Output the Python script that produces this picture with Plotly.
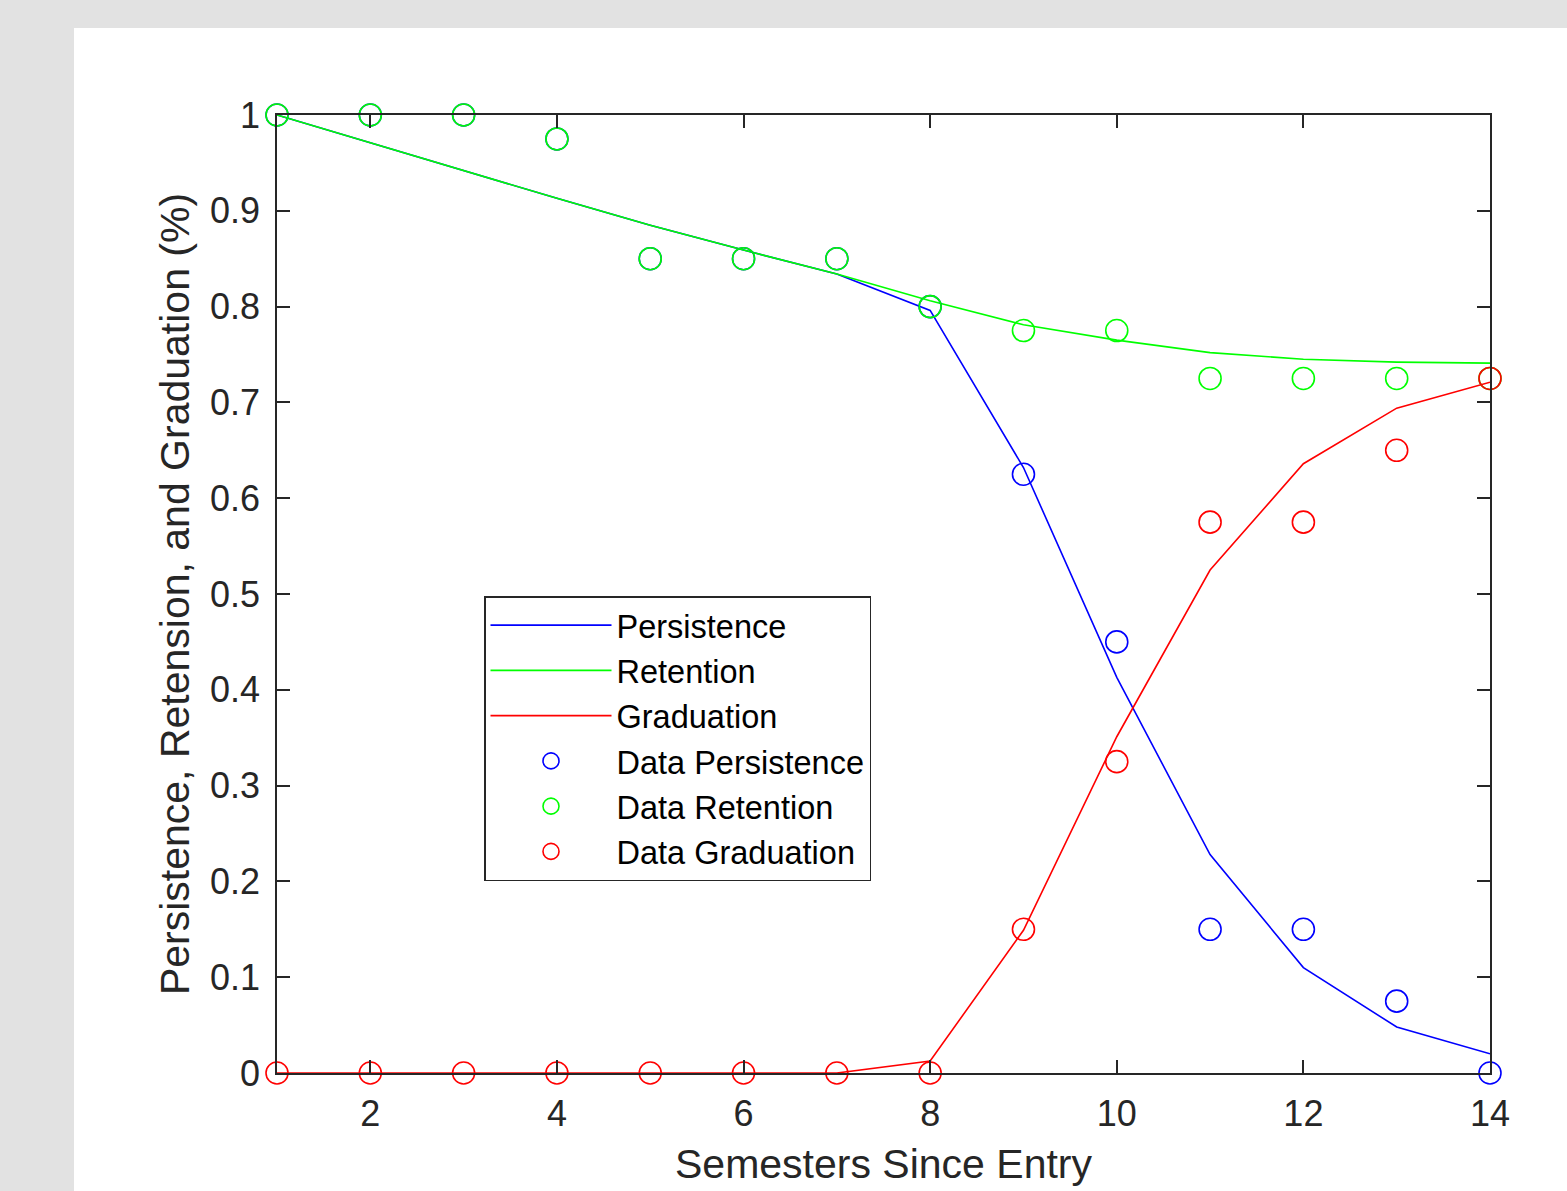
import plotly.graph_objects as go

semesters = list(range(1, 15))

# model curves
persistence_model = [1.0, 0.971, 0.942, 0.913, 0.885, 0.859, 0.834, 0.796, 0.632, 0.413, 0.228, 0.110, 0.048, 0.020]
retention_model = [1.0, 0.971, 0.942, 0.913, 0.885, 0.859, 0.834, 0.806, 0.781, 0.765, 0.752, 0.745, 0.742, 0.741]
graduation_model = [0.0, 0.0, 0.0, 0.0, 0.0, 0.0, 0.0, 0.0125, 0.149, 0.351, 0.525, 0.636, 0.694, 0.721]

# observed data
persistence_data = [1.0, 1.0, 1.0, 0.975, 0.85, 0.85, 0.85, 0.8, 0.625, 0.45, 0.15, 0.15, 0.075, 0.0]
retention_data = [1.0, 1.0, 1.0, 0.975, 0.85, 0.85, 0.85, 0.8, 0.775, 0.775, 0.725, 0.725, 0.725, 0.725]
graduation_data = [0.0, 0.0, 0.0, 0.0, 0.0, 0.0, 0.0, 0.0, 0.15, 0.325, 0.575, 0.575, 0.65, 0.725]

x_ticks = [2, 4, 6, 8, 10, 12, 14]
y_ticks = [0, 0.1, 0.2, 0.3, 0.4, 0.5, 0.6, 0.7, 0.8, 0.9, 1.0]

BLUE, GREEN, RED = "rgb(0,0,255)", "rgb(0,255,0)", "rgb(255,0,0)"
AX = "#262626"
FONT = "Arial, 'Liberation Sans', sans-serif"

fig = go.Figure()
for name, y, c in [("Persistence", persistence_model, BLUE),
                   ("Retention", retention_model, GREEN),
                   ("Graduation", graduation_model, RED)]:
    fig.add_trace(go.Scatter(x=semesters, y=y, mode="lines", name=name,
                             line=dict(color=c, width=1.6), cliponaxis=False))
for name, y, c in [("Data Persistence", persistence_data, BLUE),
                   ("Data Retention", retention_data, GREEN),
                   ("Data Graduation", graduation_data, RED)]:
    fig.add_trace(go.Scatter(x=semesters, y=y, mode="markers", name=name,
                             marker=dict(symbol="circle-open", size=22, color=c,
                                         line=dict(color=c, width=1.6)),
                             cliponaxis=False))

L, R, T, B = 277, 77, 115, 118
W, H = 1567, 1191
pw, ph = W - L - R, H - T - B

fig.add_shape(type="rect", xref="paper", yref="paper", layer="below",
              x0=(74 - L) / pw, x1=(W - L) / pw + 0.01,
              y0=-(B + 5) / ph, y1=(H - B - 28) / ph,
              fillcolor="white", line=dict(width=0))

axis_common = dict(showgrid=False, zeroline=False, showline=True, linecolor=AX,
                   linewidth=1.5, mirror="ticks", ticks="inside", ticklen=13,
                   tickwidth=1.5, tickcolor=AX,
                   tickfont=dict(family=FONT, size=36, color=AX))

fig.update_xaxes(range=[1, 14], tickvals=x_ticks,
                 ticklabelstandoff=8,
                 title=dict(text="Semesters Since Entry",
                            font=dict(family=FONT, size=41, color=AX), standoff=16),
                 **axis_common)
fig.update_yaxes(range=[0, 1], tickvals=y_ticks,
                 ticktext=[f"{v:g}" for v in y_ticks],
                 ticklabelstandoff=8,
                 title=dict(text="Persistence, Retension, and Graduation (%)",
                            font=dict(family=FONT, size=41, color=AX), standoff=8),
                 **axis_common)

fig.update_layout(
    width=W, height=H,
    margin=dict(l=L, r=R, t=T, b=B, autoexpand=False),
    paper_bgcolor="#e2e2e2", plot_bgcolor="white",
    font=dict(family=FONT, color="black"),
    legend=dict(x=(484 - L) / pw, y=(H - B - 596) / ph, xanchor="left", yanchor="top",
                bgcolor="white", bordercolor=AX, borderwidth=1.5,
                font=dict(family=FONT, size=32.5, color="black"),
                itemwidth=121, tracegroupgap=0),
    showlegend=True,
)

fig.write_html("out.html")
